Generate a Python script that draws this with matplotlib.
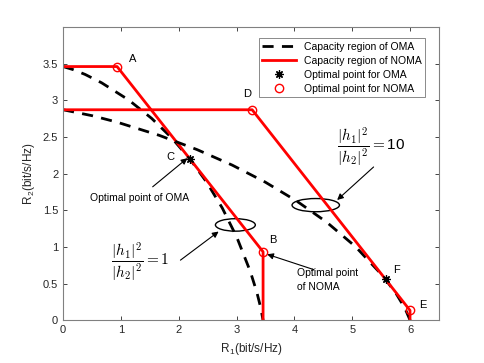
import matplotlib
matplotlib.use("Agg")
import matplotlib.pyplot as plt
from matplotlib.patches import Ellipse

plt.rcParams["font.family"] = ["Liberation Sans", "DejaVu Sans"]
plt.rcParams["mathtext.fontset"] = "cm"

# OMA boundary, |h1|^2/|h2|^2 = 1
oma1_r1 = [0, 0.179, 0.383, 0.666, 1.134, 1.530, 1.880, 2.196, 2.486, 2.754, 3.004, 3.238, 3.351, 3.416, 3.459]
oma1_r2 = [3.459, 3.416, 3.351, 3.238, 3.004, 2.754, 2.486, 2.196, 1.880, 1.530, 1.134, 0.666, 0.383, 0.179, 0]

# OMA boundary, |h1|^2/|h2|^2 = 10
oma10_r1 = [0, 0.515, 0.930, 1.661, 2.317, 2.924, 3.496, 4.038, 4.557, 5.056, 5.537, 5.771, 5.911, 6.002]
oma10_r2 = [2.870, 2.787, 2.702, 2.522, 2.327, 2.116, 1.884, 1.627, 1.339, 1.005, 0.600, 0.350, 0.166, 0]

# NOMA boundaries (pentagon corners)
noma1_r1 = [0, 0.934, 3.459, 3.459]
noma1_r2 = [3.459, 3.459, 0.934, 0]
noma10_r1 = [0, 3.27, 6.0, 6.0]
noma10_r2 = [2.87, 2.87, 0.135, 0]

# optimal points
oma_opt_r1 = [2.196, 5.58]
oma_opt_r2 = [2.196, 0.558]
noma_opt_r1 = [0.934, 3.459, 3.27, 6.0]
noma_opt_r2 = [3.459, 0.934, 2.87, 0.135]

fig = plt.figure(figsize=(4.85, 3.63), dpi=100)
ax = fig.add_axes([0.13, 0.1176, 0.775, 0.8084])

star = (8, 2, 0)
ax.plot(oma1_r1, oma1_r2, "k--", lw=2, dashes=(4, 3), label="Capacity region of OMA")
ax.plot(noma1_r1, noma1_r2, "r-", lw=2, label="Capacity region of NOMA")
ax.plot(oma10_r1, oma10_r2, "k--", lw=2, dashes=(4, 3))
ax.plot(noma10_r1, noma10_r2, "r-", lw=2)
ax.plot(oma_opt_r1, oma_opt_r2, ls="none", marker=star, ms=6, color="k", mew=0.9,
        label="Optimal point for OMA")
ax.plot(noma_opt_r1, noma_opt_r2, ls="none", marker="o", ms=6, mfc="none", mec="r", mew=1,
        label="Optimal point for NOMA")

# point labels
for s, x, y in [("A", 1.2, 3.56), ("D", 3.18, 3.08), ("C", 1.85, 2.23),
                ("B", 3.63, 1.09), ("F", 5.77, 0.68), ("E", 6.22, 0.21)]:
    ax.text(x, y, s, fontsize=8, ha="center", va="center")

arrow = dict(arrowstyle="-|>", color="k", lw=0.8, mutation_scale=9, shrinkA=0, shrinkB=0)

ax.annotate("", xy=(2.15, 2.21), xytext=(1.55, 1.82), arrowprops=arrow)
ax.text(1.33, 1.67, "Optimal point of OMA", fontsize=7.5, ha="center", va="center")

ax.add_patch(Ellipse((2.98, 1.30), 0.69, 0.17, fill=False, color="k", lw=1))
ax.annotate("", xy=(2.69, 1.21), xytext=(2.03, 0.82), arrowprops=arrow)
ax.text(1.33, 0.80, r"$\dfrac{|h_1|^2}{|h_2|^2}=1$", fontsize=11, ha="center", va="center")

ax.add_patch(Ellipse((4.37, 1.57), 0.82, 0.18, fill=False, color="k", lw=1))
ax.annotate("", xy=(4.74, 1.64), xytext=(5.37, 2.09), arrowprops=arrow)
ax.text(5.33, 2.37, r"$\dfrac{|h_1|^2}{|h_2|^2}=$10", fontsize=11, ha="center", va="center")

ax.annotate("", xy=(3.53, 0.90), xytext=(4.34, 0.69), arrowprops=arrow)
ax.text(4.05, 0.55, "Optimal point\nof NOMA", fontsize=7.5, ha="left", va="center",
        linespacing=1.5)

ax.set_xlim(0, 6.5)
ax.set_ylim(0, 4)
ax.set_xticks(range(0, 7))
ax.set_yticks([0, 0.5, 1, 1.5, 2, 2.5, 3, 3.5])
ax.set_yticklabels(["0", "0.5", "1", "1.5", "2", "2.5", "3", "3.5"])
ax.tick_params(direction="in", top=True, right=True, labelsize=8, colors="#262626",
               length=3, width=0.6)
for sp in ax.spines.values():
    sp.set_color("#808080")
    sp.set_linewidth(0.8)
ax.set_xlabel(r"R$_\mathregular{1}$(bit/s/Hz)", fontsize=8.5, color="#262626")
ax.set_ylabel(r"R$_\mathregular{2}$(bit/s/Hz)", fontsize=8.5, color="#262626")

leg = ax.legend(loc="upper right", fontsize=7.5, frameon=True, fancybox=False,
                edgecolor="#555555", handlelength=3.2, borderpad=0.35, labelspacing=0.38,
                handletextpad=0.8, bbox_to_anchor=(0.978, 0.979))
leg.get_frame().set_linewidth(0.6)

fig.savefig("out.png", dpi=100)
